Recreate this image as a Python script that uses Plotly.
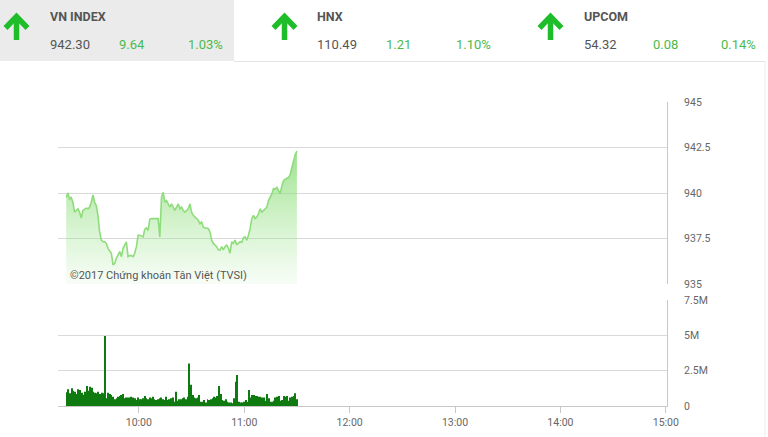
import pandas as pd
import plotly.graph_objects as go

W, H = 768, 437
DAY = "2017-09-20"

# index board
board_names = ["VN INDEX", "HNX", "UPCOM"]
board_last = ["942.30", "110.49", "54.32"]
board_change = ["9.64", "1.21", "0.08"]
board_pct = ["1.03%", "1.10%", "0.14%"]

# intraday VN-Index, first 09:19, last 11:30
price_start, price_end = "09:18:40", "11:30:00"
price_values = [
    939.76, 940.00, 939.67, 939.76, 939.49, 938.95, 939.04, 939.13, 938.95, 938.62,
    939.04, 939.13, 939.17, 939.13, 939.22, 939.49, 939.89, 939.49, 939.31, 938.77,
    937.86, 937.41, 937.32, 937.32, 937.23, 936.96, 936.78, 936.69, 936.05, 936.14,
    936.41, 936.59, 936.78, 936.50, 936.96, 937.14, 937.32, 936.50, 936.56, 936.56,
    936.50, 936.69, 937.05, 937.68, 937.68, 937.63, 937.59, 938.01, 938.08, 937.95,
    938.55, 938.59, 938.59, 938.59, 938.59, 938.59, 937.59, 939.76, 940.04, 939.49,
    939.58, 939.35, 939.22, 939.40, 939.17, 939.04, 939.22, 939.40, 939.13, 939.22,
    939.04, 938.95, 939.04, 939.13, 939.40, 938.95, 938.77, 938.68, 938.59, 938.50,
    938.32, 938.41, 938.13, 938.08, 938.08, 938.04, 937.86, 937.41, 937.23, 937.14,
    937.05, 936.87, 936.87, 937.05, 936.87, 937.05, 937.14, 936.96, 936.69, 937.32,
    937.23, 937.41, 937.17, 937.23, 937.32, 937.28, 937.54, 937.59, 937.41, 937.68,
    938.04, 938.59, 938.77, 938.59, 938.68, 938.86, 939.13, 938.95, 939.04, 939.13,
    939.22, 939.58, 939.76, 939.95, 940.25, 940.22, 940.31, 940.13, 939.95, 940.40,
    940.67, 940.76, 940.80, 940.85, 941.03, 941.49, 941.76, 942.12, 942.30,
]

# matched volume per minute, millions of shares
vol_start, vol_end = "09:19", "11:30"
volume_millions = [
    0.97, 1.18, 0.90, 1.25, 1.08, 1.00, 0.85, 1.18, 1.13, 0.94,
    0.80, 1.00, 1.42, 1.08, 1.37, 1.30, 1.00, 0.94, 0.90, 1.00,
    0.85, 0.94, 0.90, 4.95, 0.55, 0.94, 0.85, 0.78, 0.66, 0.47,
    0.55, 0.66, 0.70, 0.78, 0.85, 0.55, 0.60, 0.60, 0.60, 0.66,
    0.60, 0.55, 0.42, 0.60, 0.47, 0.47, 0.55, 0.70, 0.55, 0.47,
    0.60, 0.55, 0.66, 0.47, 0.42, 0.47, 0.55, 0.60, 0.47, 0.42,
    0.66, 0.42, 0.47, 0.55, 0.60, 0.30, 1.00, 0.38, 0.47, 0.47,
    0.55, 0.60, 0.47, 0.66, 3.00, 1.50, 0.78, 0.60, 0.55, 0.60,
    0.78, 0.30, 0.30, 0.42, 0.24, 0.47, 0.42, 0.47, 0.55, 0.66,
    0.60, 0.70, 1.42, 0.85, 0.42, 0.38, 0.47, 0.30, 0.24, 0.24,
    0.19, 0.55, 1.72, 2.20, 0.30, 0.24, 0.24, 0.30, 0.42, 0.30,
    1.13, 0.60, 0.78, 0.78, 0.70, 0.70, 0.66, 0.66, 0.60, 0.60,
    0.38, 0.85, 0.55, 0.30, 0.30, 0.38, 0.60, 0.66, 0.70, 0.38,
    0.42, 0.70, 0.66, 0.70, 0.38, 0.60, 0.66, 0.70, 0.90, 0.47,
]

price_ticks = [935, 937.5, 940, 942.5, 945]
price_tick_text = ["935", "937.5", "940", "942.5", "945"]
vol_ticks = [0, 2.5, 5, 7.5]
vol_tick_text = ["0", "2.5M", "5M", "7.5M"]
hour_ticks = ["10:00", "11:00", "12:00", "13:00", "14:00", "15:00"]
axis_start, axis_end = "09:14", "15:00:40"

GREEN_TXT = "#4cba4c"
ARROW = "#1fbd2a"
GREY_TXT = "#555555"
GRID = "#d9d9d9"
TICK_FONT = {"size": 10.5, "color": "#666666", "family": "Roboto"}


def px(x):
    return x / W


def py(y):
    return 1 - y / H


def t(hhmm):
    return pd.Timestamp(f"{DAY} {hhmm}")


price_times = pd.date_range(t(price_start), t(price_end), periods=len(price_values))
vol_times = pd.date_range(t(vol_start), t(vol_end), periods=len(volume_millions))

fig = go.Figure()

fig.add_trace(
    go.Scatter(
        x=price_times,
        y=price_values,
        mode="lines",
        line={"color": "#8fdc7c", "width": 1.6},
        fill="tozeroy",
        fillgradient={
            "type": "vertical",
            "start": 935,
            "stop": 942.3,
            "colorscale": [
                [0, "rgba(160,230,145,0.08)"],
                [1, "rgba(130,218,110,0.78)"],
            ],
        },
        xaxis="x",
        yaxis="y",
        showlegend=False,
        hoverinfo="skip",
    )
)

fig.add_trace(
    go.Bar(
        x=vol_times,
        y=volume_millions,
        marker={"color": "#0f7a0f", "line": {"width": 0}},
        width=31000,
        xaxis="x2",
        yaxis="y2",
        showlegend=False,
        hoverinfo="skip",
    )
)

x_range = [t(axis_start), t(axis_end)]
fig.update_layout(
    width=W,
    height=H,
    margin={"l": 0, "r": 0, "t": 0, "b": 0, "autoexpand": False},
    paper_bgcolor="white",
    plot_bgcolor="white",
    font={"family": "Roboto, Arial, sans-serif", "color": GREY_TXT, "size": 11},
    xaxis={
        "domain": [px(58), px(667)],
        "range": x_range,
        "anchor": "y",
        "automargin": False,
        "showgrid": False,
        "showticklabels": False,
        "zeroline": False,
    },
    yaxis={
        "domain": [py(284), py(102)],
        "range": [935, 945],
        "side": "right",
        "anchor": "x",
        "automargin": False,
        "tickvals": price_ticks,
        "ticktext": price_tick_text,
        "gridcolor": GRID,
        "showline": True,
        "linecolor": "#c8c8c8",
        "ticks": "",
        "ticklabelstandoff": 14,
        "zeroline": False,
        "tickfont": TICK_FONT,
    },
    xaxis2={
        "domain": [px(58), px(667)],
        "range": x_range,
        "anchor": "y2",
        "automargin": False,
        "showgrid": False,
        "tickvals": [t(h) for h in hour_ticks],
        "ticktext": hour_ticks,
        "ticks": "outside",
        "ticklen": 6,
        "tickcolor": "#c8c8c8",
        "showline": True,
        "linecolor": "#c8c8c8",
        "zeroline": False,
        "tickfont": TICK_FONT,
    },
    yaxis2={
        "domain": [py(406), py(300)],
        "range": [0, 7.5],
        "side": "right",
        "anchor": "x2",
        "automargin": False,
        "tickvals": vol_ticks,
        "ticktext": vol_tick_text,
        "gridcolor": GRID,
        "showline": True,
        "linecolor": "#c8c8c8",
        "ticks": "",
        "ticklabelstandoff": 14,
        "zeroline": False,
        "tickfont": TICK_FONT,
    },
)

# header panel
shapes = [
    {"type": "rect", "xref": "paper", "yref": "paper", "x0": 0, "x1": px(234),
     "y0": py(61), "y1": 1, "fillcolor": "#ebebeb", "line": {"width": 0}, "layer": "below"},
    {"type": "line", "xref": "paper", "yref": "paper", "x0": px(234), "x1": px(765),
     "y0": py(61.5), "y1": py(61.5), "line": {"color": "#e3e3e3", "width": 1}},
    {"type": "line", "xref": "paper", "yref": "paper", "x0": px(765), "x1": px(765),
     "y0": py(61.5), "y1": 0, "line": {"color": "#ececec", "width": 1}},
]

annotations = []
arrow_x = [16.5, 284.5, 550.5]
label_x = [48, 315, 582]
change_x = [117, 384, 651]
pct_x = [186, 454, 719]
for i, name in enumerate(board_names):
    cx = arrow_x[i]
    chevron = (
        f"M {px(cx - 11)},{py(28)} L {px(cx)},{py(16.5)} L {px(cx + 11)},{py(28)}"
    )
    stem = f"M {px(cx)},{py(18)} L {px(cx)},{py(40)}"
    for path in (chevron, stem):
        shapes.append(
            {"type": "path", "xref": "paper", "yref": "paper", "path": path,
             "line": {"color": ARROW, "width": 5.5}}
        )
    annotations.append(
        {"text": f"<b>{name}</b>", "x": px(label_x[i]), "y": py(17), "xref": "paper",
         "yref": "paper", "xanchor": "left", "yanchor": "middle", "showarrow": False,
         "font": {"size": 12.5, "color": GREY_TXT, "family": "Roboto"}}
    )
    for xx, txt, col in (
        (label_x[i], board_last[i], GREY_TXT),
        (change_x[i], board_change[i], GREEN_TXT),
        (pct_x[i], board_pct[i], GREEN_TXT),
    ):
        annotations.append(
            {"text": txt, "x": px(xx), "y": py(44), "xref": "paper", "yref": "paper",
             "xanchor": "left", "yanchor": "middle", "showarrow": False,
             "font": {"size": 13, "color": col, "family": "Roboto"}}
        )

annotations.append(
    {"text": "©2017 Chứng khoán Tân Việt (TVSI)", "x": px(68), "y": py(275),
     "xref": "paper", "yref": "paper", "xanchor": "left", "yanchor": "middle",
     "showarrow": False, "font": {"size": 11, "color": "#555555", "family": "Roboto"}}
)

fig.update_layout(shapes=shapes, annotations=annotations)

page_reset = (
    "document.documentElement.style.margin='0';"
    "document.body.style.margin='0';"
    "document.documentElement.style.overflow='hidden';"
)

fig.write_html("out.html", config={"displayModeBar": False}, post_script=page_reset)
